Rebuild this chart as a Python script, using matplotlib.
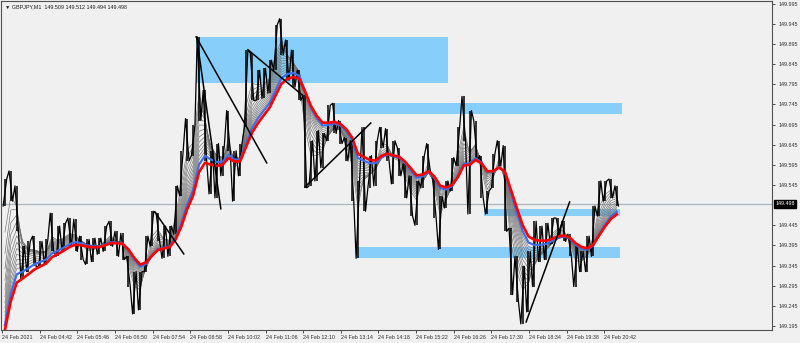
import numpy as np
import matplotlib.pyplot as plt
from matplotlib.patches import Rectangle

bar_high = [149.560, 149.580, 149.543, 149.393, 149.405, 149.418, 149.405, 149.410, 149.475, 149.443,
            149.450, 149.463, 149.460, 149.418, 149.410, 149.413, 149.413, 149.443, 149.455, 149.430,
            149.425, 149.368, 149.330, 149.330, 149.418, 149.480, 149.475, 149.443, 149.443, 149.543,
            149.630, 149.710, 149.693, 149.913, 149.780, 149.630, 149.648, 149.643, 149.730, 149.630,
            149.648, 149.880, 149.873, 149.830, 149.835, 149.855, 149.943, 149.958, 149.905, 149.880,
            149.830, 149.768, 149.655, 149.680, 149.673, 149.743, 149.748, 149.705, 149.663, 149.655,
            149.555, 149.688, 149.618, 149.655, 149.688, 149.685, 149.655, 149.638, 149.598, 149.568,
            149.555, 149.618, 149.648, 149.563, 149.518, 149.555, 149.613, 149.688, 149.765, 149.730,
            149.705, 149.618, 149.530, 149.623, 149.655, 149.643, 149.438, 149.368, 149.343, 149.380,
            149.455, 149.443, 149.450, 149.463, 149.463, 149.455, 149.423, 149.393, 149.380, 149.418,
            149.493, 149.555, 149.555, 149.560, 149.543]
bar_low = [149.493, 149.505, 149.430, 149.313, 149.330, 149.343, 149.343, 149.350, 149.380, 149.368,
           149.380, 149.393, 149.380, 149.360, 149.348, 149.355, 149.373, 149.380, 149.393, 149.368,
           149.360, 149.293, 149.225, 149.235, 149.330, 149.393, 149.405, 149.363, 149.368, 149.423,
           149.518, 149.605, 149.618, 149.705, 149.605, 149.523, 149.513, 149.568, 149.630, 149.505,
           149.568, 149.688, 149.755, 149.755, 149.760, 149.773, 149.830, 149.868, 149.805, 149.788,
           149.755, 149.538, 149.543, 149.555, 149.588, 149.655, 149.673, 149.648, 149.605, 149.505,
           149.363, 149.480, 149.538, 149.543, 149.638, 149.605, 149.548, 149.568, 149.513, 149.468,
           149.445, 149.538, 149.580, 149.463, 149.385, 149.488, 149.530, 149.593, 149.655, 149.473,
           149.605, 149.513, 149.473, 149.538, 149.593, 149.430, 149.273, 149.255, 149.200, 149.230,
           149.293, 149.355, 149.360, 149.398, 149.418, 149.405, 149.368, 149.293, 149.330, 149.330,
           149.368, 149.468, 149.505, 149.513, 149.493]
bar_minutes = 10

# moving-average ribbon (EMA spans in 10-minute bars)
ribbon_spans = [1.6, 2.1, 2.6, 3.1, 3.6, 4.1, 4.6, 5.1, 5.6, 6.1, 6.6, 7.1]
blue_span = 7.8
red_span = 9.0
ema_seed = 149.10

# zones and trendlines drawn on the chart (minutes from 03:38, price)
zone_left = [330, 566, 819, 602]
zone_right = [758, 1054, 1050, 1051]
zone_top = [149.913, 149.749, 149.486, 149.391]
zone_bottom = [149.799, 149.722, 149.468, 149.364]

trend_t0 = [330, 331, 418, 515, 260, 891]
trend_p0 = [149.913, 149.911, 149.881, 149.540, 149.478, 149.205]
trend_t1 = [450, 372, 510, 627, 309, 965]
trend_p1 = [149.600, 149.486, 149.769, 149.699, 149.374, 149.503]

last_price = 149.498
header = "\u25bc GBPJPY,M1  149.509 149.512 149.494 149.498"

time_labels = ["24 Feb 2021", "24 Feb 04:42", "24 Feb 05:46", "24 Feb 06:50", "24 Feb 07:54",
               "24 Feb 08:58", "24 Feb 10:02", "24 Feb 11:06", "24 Feb 12:10", "24 Feb 13:14",
               "24 Feb 14:18", "24 Feb 15:22", "24 Feb 16:26", "24 Feb 17:30", "24 Feb 18:34",
               "24 Feb 19:38", "24 Feb 20:42"]
label_step = 64
price_labels = ["149.995", "149.945", "149.895", "149.845", "149.795", "149.745", "149.695",
                "149.645", "149.595", "149.545", "149.445", "149.395", "149.345", "149.295",
                "149.245", "149.195"]


def ema(values, span, seed):
    a = 2.0 / (span + 1.0)
    out = []
    cur = seed
    for v in values:
        cur = cur + a * (v - cur)
        out.append(cur)
    return np.array(out)


hi = np.array(bar_high)
lo = np.array(bar_low)
mid = (hi + lo) / 2
t = np.arange(len(hi)) * bar_minutes + bar_minutes / 2

plt.rcParams["font.family"] = ["Liberation Sans", "DejaVu Sans"]
bg = "#f0f0f0"
fig = plt.figure(figsize=(8, 3.43), dpi=100, facecolor=bg)
ax = fig.add_axes([1 / 800, 13 / 343, 771 / 800, 329 / 343], facecolor=bg)

for l, r, top, bot in zip(zone_left, zone_right, zone_top, zone_bottom):
    ax.add_patch(Rectangle((l, bot), r - l, top - bot, facecolor="#87cefa", edgecolor="none", zorder=1))

ax.axhline(last_price, color="#aab4be", lw=0.9, zorder=1.5)

for s in ribbon_spans:
    ax.plot(t, ema(mid, s, ema_seed), color="#6e6e6e", lw=0.45, zorder=2)

# price: high-low bars plus a zigzag through them
ax.vlines(t, lo, hi, color="black", lw=1.1, zorder=3)
zx, zy = [], []
for i in range(len(t)):
    up = i + 1 < len(t) and mid[i + 1] >= mid[i]
    zx += [t[i] - 3, t[i] + 3]
    zy += [lo[i], hi[i]] if up else [hi[i], lo[i]]
ax.plot(zx, zy, color="black", lw=0.9, zorder=3)

ax.plot(t, ema(mid, blue_span, ema_seed), color="#3b6ee8", lw=1.6, zorder=4)
ax.plot(t, ema(mid, red_span, ema_seed), color="#ff0000", lw=1.9, zorder=5)

for a0, b0, a1, b1 in zip(trend_t0, trend_p0, trend_t1, trend_p1):
    ax.plot([a0, a1], [b0, b1], color="black", lw=1.1, zorder=6)

ax.set_xlim(-1.7, 1309)
ax.set_ylim(149.185, 150.002)

ax.set_xticks(np.arange(len(time_labels)) * label_step)
ax.set_xticklabels(time_labels)
for lbl in ax.get_xticklabels():
    lbl.set_horizontalalignment("left")
ax.tick_params(axis="x", direction="out", length=2.5, width=0.6, pad=1, labelsize=3.9,
               colors="#303030")

vals = [float(p) for p in price_labels]
ax.yaxis.tick_right()
ax.set_yticks(vals)
ax.set_yticklabels(price_labels)
ax.tick_params(axis="y", direction="out", length=2.5, width=0.6, pad=2, labelsize=3.9,
               colors="#303030")

for sp in ax.spines.values():
    sp.set_color("#505050")
    sp.set_linewidth(0.8)

ax.text(1.004, last_price, "%.3f" % last_price, transform=ax.get_yaxis_transform(),
        fontsize=3.9, color="white", va="center", ha="left",
        bbox=dict(boxstyle="square,pad=0.25", facecolor="black", edgecolor="black"))

fig.text(5 / 800, 1 - 7 / 343, header, fontsize=3.9, color="#202020", va="center", ha="left")

fig.savefig("out.png", dpi=100, facecolor=bg)
